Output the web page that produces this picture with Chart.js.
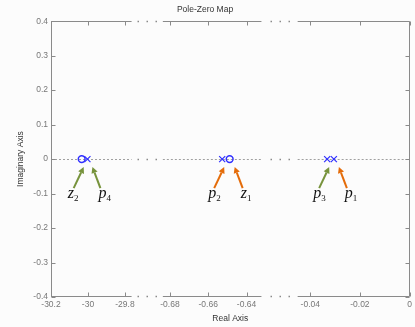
<!DOCTYPE html>
<html>
<head>
<meta charset="utf-8">
<script src="https://cdn.jsdelivr.net/npm/chart.js@4/dist/chart.umd.min.js"></script>
<style>
  html, body { margin: 0; padding: 0; background: #fcfcfc; }
  canvas { display: block; }
</style>
</head>
<body>
<canvas id="pzmap" width="415" height="327"></canvas>
<script>
// --- Data ---
const poleRe = [-0.0305, -0.6527, -0.0332, -30.003];
const poleNames = ['p1', 'p2', 'p3', 'p4'];
const zeroRe = [-0.6488, -30.034];
const zeroNames = ['z1', 'z2'];

const xTicks = [-30.2, -30, -29.8, -0.68, -0.66, -0.64, -0.04, -0.02, 0];
const xTickLabels = ['-30.2', '-30', '-29.8', '-0.68', '-0.66', '-0.64', '-0.04', '-0.02', '0'];
const yTickLabels = ['-0.4', '-0.3', '-0.2', '-0.1', '0', '0.1', '0.2', '0.3', '0.4'];

// broken real axis: value range of each piece and where it sits along the axis (0..1)
const pieces = [
    { from: -30.2, to: -29.764, start: 0, end: 0.2248 },
    { from: -0.6837, to: -0.6322, start: 0.312, end: 0.587 },
    { from: -0.0451, to: 0, start: 0.688, end: 1 }
];

const GREEN = '#77933c';
const ORANGE = '#e46c0a';
const poleArrow = [ORANGE, ORANGE, GREEN, GREEN];
const poleSide = ['right', 'left', 'left', 'right'];
const zeroArrow = [ORANGE, GREEN];
const zeroSide = ['right', 'left'];

// --- Broken scale ---
class BrokenScale extends Chart.LinearScale {
    static id = 'broken';
    buildTicks() {
        this.start = this.min;
        this.end = this.max;
        return xTicks.map(v => ({ value: v }));
    }
    toDecimal(v) {
        for (const p of pieces) {
            if (v >= p.from - 1e-9 && v <= p.to + 1e-9) {
                return p.start + (v - p.from) / (p.to - p.from) * (p.end - p.start);
            }
        }
        return NaN;
    }
    getPixelForValue(v) {
        if (v === null || v === undefined) return NaN;
        return this.getPixelForDecimal(this.toDecimal(v));
    }
    getValueForPixel(px) {
        const d = this.getDecimalForPixel(px);
        for (const p of pieces) {
            if (d >= p.start && d <= p.end) {
                return p.from + (d - p.start) / (p.end - p.start) * (p.to - p.from);
            }
        }
        return NaN;
    }
}
Chart.register(BrokenScale);

// frame, inward ticks, dashed zero line, gap dots
const framePlugin = {
    id: 'frame',
    beforeDatasetsDraw(chart) {
        const { ctx, chartArea: a, scales: { x, y } } = chart;
        const y0 = Math.round(y.getPixelForValue(0)) + 0.5;
        ctx.save();
        ctx.strokeStyle = '#a0a0a0';
        ctx.lineWidth = 1;
        ctx.setLineDash([2, 2]);
        pieces.forEach(p => {
            ctx.beginPath();
            ctx.moveTo(x.getPixelForValue(p.from), y0);
            ctx.lineTo(x.getPixelForValue(p.to), y0);
            ctx.stroke();
        });
        ctx.setLineDash([]);

        const L = Math.round(a.left) + 0.5, R = Math.round(a.right) - 0.5;
        const T = Math.round(a.top) + 0.5, B = Math.round(a.bottom) - 0.5;
        ctx.strokeStyle = '#8a8a8a';
        ctx.beginPath();
        ctx.moveTo(L, T); ctx.lineTo(L, B);
        ctx.moveTo(R, T); ctx.lineTo(R, B);
        pieces.forEach(p => {
            const x1 = x.getPixelForValue(p.from), x2 = x.getPixelForValue(p.to);
            ctx.moveTo(x1, T); ctx.lineTo(x2, T);
            ctx.moveTo(x1, B); ctx.lineTo(x2, B);
        });
        xTicks.forEach(v => {
            const px = Math.round(x.getPixelForValue(v)) + 0.5;
            ctx.moveTo(px, T); ctx.lineTo(px, T + 4);
            ctx.moveTo(px, B); ctx.lineTo(px, B - 4);
        });
        y.ticks.forEach(t => {
            const py = Math.round(y.getPixelForValue(t.value)) + 0.5;
            ctx.moveTo(L, py); ctx.lineTo(L + 4, py);
            ctx.moveTo(R, py); ctx.lineTo(R - 4, py);
        });
        ctx.stroke();

        // dots in the gaps
        ctx.fillStyle = '#8a8a8a';
        for (let i = 0; i < pieces.length - 1; i++) {
            const c = (x.getPixelForValue(pieces[i].to) + x.getPixelForValue(pieces[i + 1].from)) / 2;
            [-9, 0, 9].forEach(dx => {
                [T, B, y0].forEach(py => ctx.fillRect(Math.round(c + dx) - 0.5, py - 0.75, 1.5, 1.5));
            });
        }
        ctx.restore();
    }
};

function drawArrow(ctx, x1, y1, x2, y2, color) {
    const ang = Math.atan2(y2 - y1, x2 - x1);
    const hl = 6, hw = 3.2;
    const bx = x2 - hl * Math.cos(ang), by = y2 - hl * Math.sin(ang);
    ctx.strokeStyle = color;
    ctx.fillStyle = color;
    ctx.lineWidth = 2;
    ctx.beginPath();
    ctx.moveTo(x1, y1);
    ctx.lineTo(bx, by);
    ctx.stroke();
    ctx.beginPath();
    ctx.moveTo(x2, y2);
    ctx.lineTo(bx + hw * Math.sin(ang), by - hw * Math.cos(ang));
    ctx.lineTo(bx - hw * Math.sin(ang), by + hw * Math.cos(ang));
    ctx.closePath();
    ctx.fill();
}

// arrows with z/p labels under each root
const labelPlugin = {
    id: 'rootLabels',
    afterDatasetsDraw(chart) {
        const { ctx, scales: { x, y } } = chart;
        const y0 = y.getPixelForValue(0);
        const items = [];
        poleRe.forEach((v, i) => items.push({ v, name: poleNames[i], color: poleArrow[i], side: poleSide[i] }));
        zeroRe.forEach((v, i) => items.push({ v, name: zeroNames[i], color: zeroArrow[i], side: zeroSide[i] }));
        ctx.save();
        items.forEach(it => {
            const px = x.getPixelForValue(it.v);
            let hx, tx, lx;
            if (it.side === 'left') { hx = px + 2; tx = px - 8; lx = tx - 6; }
            else { hx = px + 5; tx = px + 13; lx = tx - 2; }
            drawArrow(ctx, tx, y0 + 29, hx, y0 + 8, it.color);
            ctx.fillStyle = '#111';
            ctx.textBaseline = 'alphabetic';
            ctx.textAlign = 'left';
            ctx.font = 'italic 16px "Liberation Serif"';
            ctx.fillText(it.name[0], lx, y0 + 39);
            const w = ctx.measureText(it.name[0]).width;
            ctx.font = '9px "Liberation Serif"';
            ctx.fillText(it.name.slice(1), lx + w, y0 + 42);
        });
        ctx.restore();
    }
};

const textFont = { family: '"Liberation Sans", Arial, sans-serif', size: 8.5 };

new Chart(document.getElementById('pzmap'), {
    type: 'scatter',
    data: {
        datasets: [{
            label: 'Poles',
            data: poleRe.map(v => ({ x: v, y: 0 })),
            pointStyle: 'crossRot',
            pointRadius: 4.3,
            borderColor: '#3030ff',
            borderWidth: 1.2
        }, {
            label: 'Zeros',
            data: zeroRe.map(v => ({ x: v, y: 0 })),
            pointStyle: 'circle',
            pointRadius: 3.4,
            backgroundColor: 'rgba(0,0,0,0)',
            borderColor: '#3030ff',
            borderWidth: 1.5
        }]
    },
    options: {
        responsive: false,
        animation: false,
        devicePixelRatio: 1,
        layout: { padding: { left: 0, right: 5, top: 0, bottom: 0 } },
        plugins: {
            legend: { display: false },
            tooltip: { enabled: false },
            title: {
                display: true,
                text: 'Pole-Zero Map',
                color: '#333',
                font: { ...textFont, weight: 'normal' },
                padding: { top: 5, bottom: 6 }
            }
        },
        scales: {
            x: {
                type: 'broken',
                min: -30.2,
                max: 0,
                grid: { display: false, drawTicks: false },
                border: { display: false },
                ticks: {
                    autoSkip: false,
                    maxRotation: 0,
                    padding: 3,
                    color: '#777',
                    font: textFont,
                    callback: (v, i) => xTickLabels[i]
                },
                title: { display: true, text: 'Real Axis', color: '#333', font: textFont, padding: { top: 3, bottom: 3 } },
                afterFit: s => { s.height = 30; }
            },
            y: {
                min: -0.4,
                max: 0.4,
                grid: { display: false, drawTicks: false },
                border: { display: false },
                ticks: {
                    stepSize: 0.1,
                    padding: 3,
                    color: '#777',
                    font: textFont,
                    callback: (v, i) => yTickLabels[i]
                },
                title: { display: true, text: 'Imaginary Axis', color: '#333', font: textFont, padding: { top: 16, bottom: 3 } },
                afterFit: s => { s.width = 51; }
            }
        }
    },
    plugins: [framePlugin, labelPlugin]
});
</script>
</body>
</html>
